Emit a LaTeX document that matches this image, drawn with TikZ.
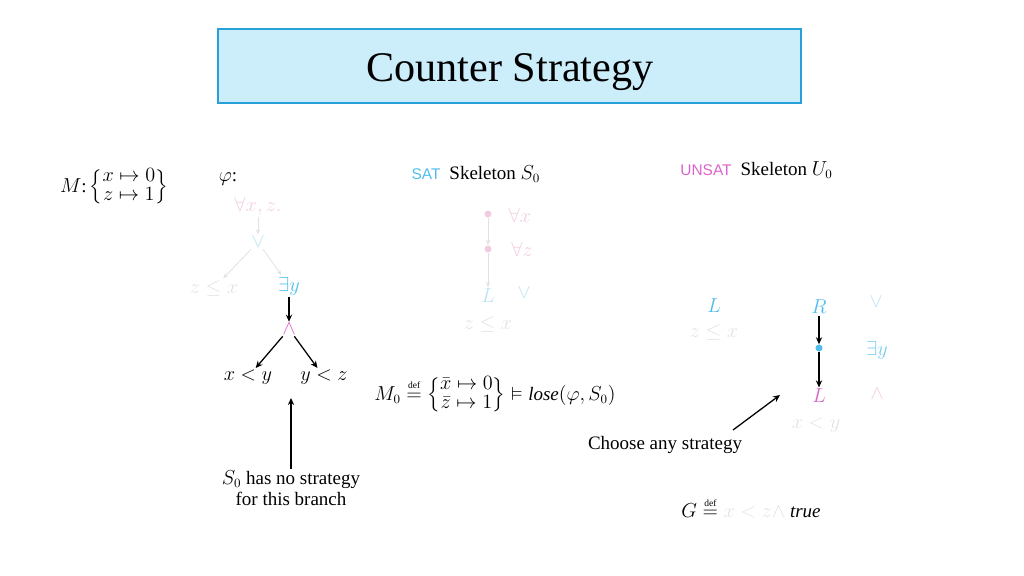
\documentclass[tikz,border=0pt]{standalone}
\usepackage{amsmath,amssymb}
\usepackage{fontspec}
\setmainfont{Liberation Serif}
\newfontfamily\satfont{Liberation Sans}
\usetikzlibrary{positioning, arrows.meta}

\definecolor{satblue}{RGB}{80,190,235}
\definecolor{exblue}{RGB}{120,205,240}
\definecolor{unsatpink}{RGB}{220,100,200}
\definecolor{fadepink}{RGB}{242,205,225}
\definecolor{fadeblue}{RGB}{185,228,245}
\definecolor{fadegrey}{RGB}{226,226,226}
\definecolor{titlefill}{RGB}{204,237,250}
\definecolor{titleline}{RGB}{40,160,215}

\newcommand{\defeq}{\mathrel{\overset{\scriptscriptstyle\mathrm{def}}{=}}}

\begin{document}
\begin{tikzpicture}[x = 0.025cm, y = -0.025cm,
  every node/.style = {font = \fontsize{13.5}{15}\selectfont, inner sep = 1pt},
  edge/.style = {-{Stealth[length = 5pt, width = 4.5pt]}, line width = 0.9pt},
  fade/.style = {-{Stealth[length = 4pt]}, draw = fadegrey, line width = 0.6pt},
  dot/.style = {circle, inner sep = 0pt, minimum size = 5pt}]
\useasboundingbox (0,0) rectangle (1024,576);

\node[draw = titleline, fill = titlefill, line width = 1pt,
      minimum width = 14.575cm, minimum height = 1.85cm] (titlebox) at (509.5,66) {};
\node[font = \fontsize{30}{36}\selectfont] (title) at (510,72) {Counter Strategy};

\node (M) at (114,187) {$M$:\,$\left\{\renewcommand{\arraystretch}{0.8}\begin{matrix} x\mapsto 0\\ z\mapsto 1\end{matrix}\right\}$};

\node (phi) at (228,179) {$\varphi$:};
\node[text = fadepink] (forall) at (258,206) {$\forall x, z.$};
\node[text = fadeblue] (or) at (258,242) {$\vee$};
\node[text = fadegrey] (zlex) at (214,288) {$z \leq x$};
\node[text = satblue] (exists) at (289,286) {$\exists y$};
\node[text = unsatpink] (and) at (289,329) {$\wedge$};
\node (xly) at (248,377) {$x < y$};
\node (ylz) at (324,377) {$y < z$};

\draw[fade] (forall) -- (or);
\draw[fade] (or) -- (zlex);
\draw[fade] (or) -- (exists);
\draw[edge] (exists) -- (and);
\draw[edge] (and) -- (xly);
\draw[edge] (and) -- (ylz);

\node[align = center] (nostrat) at (291,488) {$S_0$ has no strategy\\for this branch};
\coordinate (branch) at (291,398);
\draw[edge] (nostrat) -- (branch);

\node[font = \satfont\fontsize{11}{13}\selectfont, text = satblue] (sat) at (426,174) {SAT};
\node[right = 4pt of sat] (skS) {Skeleton $S_0$};

\node[dot, fill = fadepink] (s1) at (488,214) {};
\node[text = fadepink] (s1q) at (520,215) {$\forall x$};
\node[dot, fill = fadepink] (s2) at (488,249) {};
\node[text = fadepink] (s2q) at (522,249) {$\forall z$};
\node[text = fadeblue] (sL) at (488,296) {$L$};
\node[text = fadeblue] (sor) at (524,293) {$\vee$};
\node[text = fadegrey] (szlex) at (488,324) {$z \leq x$};

\draw[fade] (s1) -- (s2);
\draw[fade] (s2) -- (sL);

\node (M0) at (495,395) {$M_0 \defeq \left\{\renewcommand{\arraystretch}{0.8}\begin{matrix} \bar{x}\mapsto 0\\ \bar{z}\mapsto 1\end{matrix}\right\} \vDash \mathit{lose}(\varphi, S_0)$};

\node[font = \satfont\fontsize{11}{13}\selectfont, text = unsatpink] (unsat) at (706,170) {UNSAT};
\node[right = 4pt of unsat] (skU) {Skeleton $U_0$};

\node[text = satblue] (uL) at (714,306) {$L$};
\node[text = fadegrey] (uzlex) at (714,332) {$z \leq x$};
\node[text = satblue] (uR) at (819,307) {$R$};
\node[text = fadeblue] (uor) at (876,302) {$\vee$};
\node[dot, fill = satblue] (udot) at (819,348) {};
\node[text = exblue] (uex) at (877,350) {$\exists y$};
\node[text = unsatpink] (uL2) at (819,396) {$L$};
\node[text = fadepink] (uand) at (877,394) {$\wedge$};
\node[text = fadegrey] (uxly) at (816,425) {$x < y$};

\draw[edge] (uR) -- (udot);
\draw[edge] (udot) -- (uL2);

\node (choose) at (665,445) {Choose any strategy};
\coordinate (ctail) at (733,430);
\coordinate (chead) at (780,395);
\draw[edge] (ctail) -- (chead);

\node (G) at (751,508) {$G \defeq \textcolor{fadegrey}{x < z \wedge}\ \mathit{true}$};
\end{tikzpicture}
\end{document}
